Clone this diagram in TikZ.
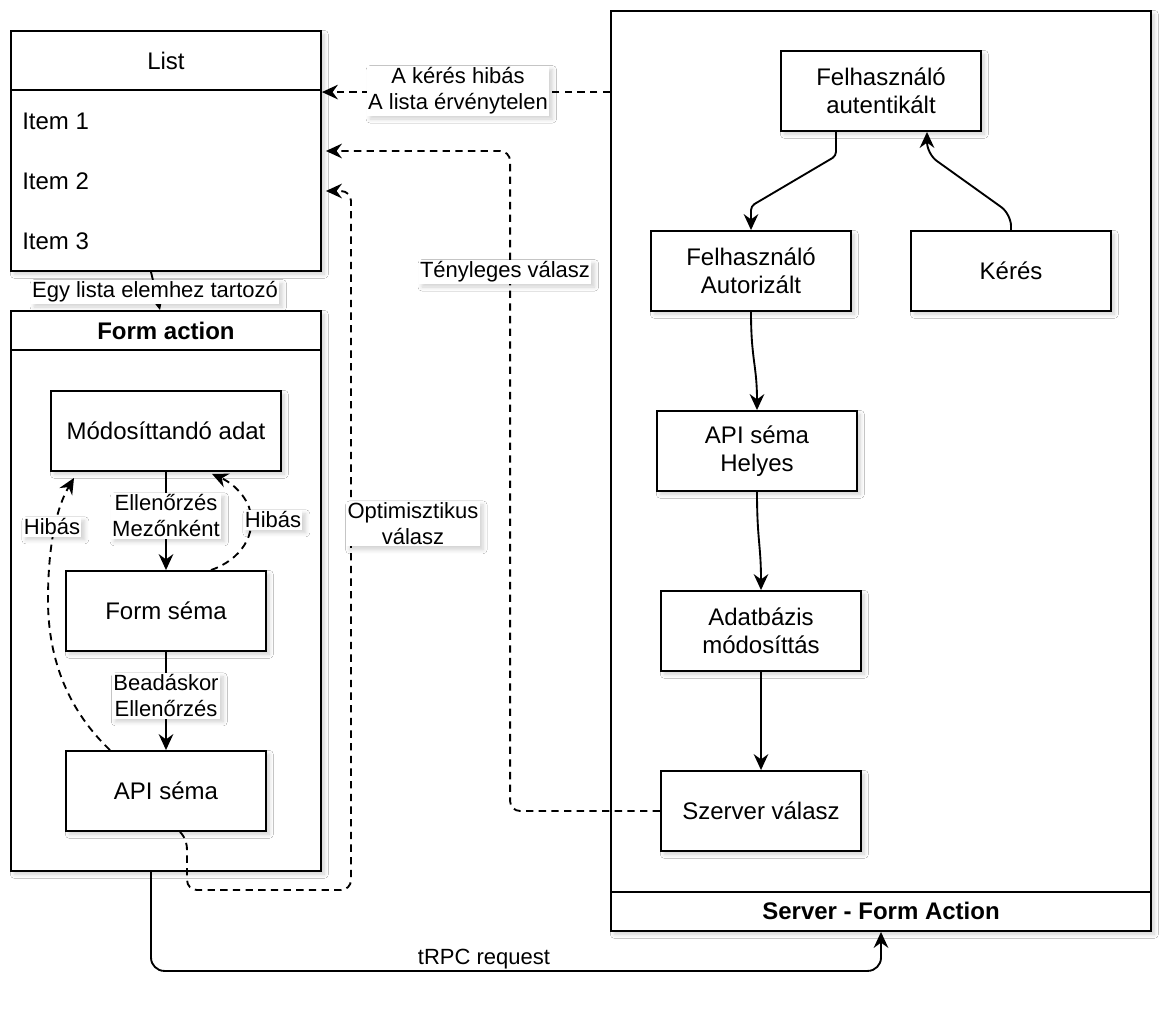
\documentclass[tikz,border=0pt]{standalone}
\usepackage{fontspec}
\setmainfont{Liberation Sans}
\usetikzlibrary{arrows.meta,calc,shadows.blur}
\newcommand\boxfont{\fontsize{18}{21}\selectfont}
\newcommand\lblfont{\fontsize{16.5}{19.5}\selectfont}
\begin{document}
\begin{tikzpicture}[x=0.75pt,y=-0.75pt,
  shad/.style={blur shadow={shadow xshift=2.5pt,shadow yshift=-2.5pt,shadow blur steps=6,shadow opacity=18,shadow blur radius=3pt}},
  frame/.style={draw,line width=1.4pt,fill=white,shad,inner sep=0pt},
  box/.style={draw,line width=1.4pt,fill=white,shad,minimum width=150pt,minimum height=60pt,align=center,font=\boxfont,inner sep=2pt},
  txt/.style={font=\boxfont,inner sep=0pt,align=center},
  lbl/.style={fill=white,shad,font=\lblfont,inner sep=1pt,align=center},
  arr/.style={line width=1.4pt,-{Stealth[length=12pt,width=11pt,inset=4pt]}},
  darr/.style={arr,dash pattern=on 5.5pt off 4pt},
  conn/.style={line width=1.4pt}]

\fill[white] (0,0) rectangle (1174,1020);
\useasboundingbox (0,0) rectangle (1174,1020);

% containers
\node[frame,minimum width=232.5pt,minimum height=180pt] (list) at (166,151) {};
\draw[conn] ($(list.north west)+(0,60)$) -- ($(list.north east)+(0,60)$);
\node[txt] (listtitle) at (166,61) {List};
\node[txt,anchor=west] (item1) at (22,121) {Item 1};
\node[txt,anchor=west] (item2) at (22,181) {Item 2};
\node[txt,anchor=west] (item3) at (22,241) {Item 3};

\node[frame,minimum width=232.5pt,minimum height=420pt] (fa) at (166,591) {};
\draw[conn] ($(fa.north west)+(0,40)$) -- ($(fa.north east)+(0,40)$);
\node[txt,font=\boxfont\bfseries] (fatitle) at (166,331) {Form action};

\node[frame,minimum width=405pt,minimum height=690pt] (srv) at (881,471) {};
\draw[conn] ($(srv.south west)+(0,-40)$) -- ($(srv.south east)+(0,-40)$);
\node[txt,font=\boxfont\bfseries] (srvtitle) at (881,911) {Server - Form Action};

% client side boxes
\node[box,minimum width=172.5pt] (mod) at (166,431) {Módosíttandó adat};
\node[box] (fs) at (166,611) {Form séma};
\node[box] (api) at (166,791) {API séma};

% server side boxes
\node[box] (auth) at (881,91) {Felhasználó\\autentikált};
\node[box] (autz) at (751,271) {Felhasználó\\Autorizált};
\node[box] (keres) at (1011,271) {Kérés};
\node[box] (apih) at (757,451) {API séma\\Helyes};
\node[box] (db) at (761,631) {Adatbázis\\módosíttás};
\node[box] (sv) at (761,811) {Szerver válasz};

% client connectors
\draw[arr] ($(list.south)+(-15,0)$) -- ($(fa.north)+(-6,0)$);
\draw[arr] (mod) -- (fs);
\draw[arr] (fs) -- (api);
\draw[darr] ($(fs.north)+(45,0)$) .. controls (240,560) and (258,535) .. (249,507)
  .. controls (242,490) and (228,481) .. ($(mod.south)+(46,2)$);
\draw[darr] ($(api.north)+(-56,0)$) .. controls (70,712) and (48,662) .. (48,600)
  .. controls (48,540) and (58,505) .. ($(mod.south)+(-92,6)$);

% server connectors
\draw[arr,rounded corners=3pt] ($(auth.south)+(-45,0)$) -- ++(0,24) -- ($(autz.north)+(0,-24)$) -- (autz.north);
\draw[arr,rounded corners=9pt] (keres.north) -- ++(0,-16) -- ($(auth.south)+(46,22)$) -- ($(auth.south)+(46,0)$);
\draw[arr] (autz.south) .. controls (751,360) and (757,365) .. (apih.north);
\draw[arr] (apih.south) .. controls (757,540) and (761,545) .. (db.north);
\draw[arr] (db) -- (sv);

% responses and request
\draw[darr] ($(srv.north west)+(0,82)$) -- ($(list.north east)+(0,62)$);
\draw[darr,rounded corners=7.5pt] (sv.west) -- ++(-150,0) |- ($(list.east)+(4,0)$);
\draw[darr,rounded corners=7.5pt] ($(api.south)+(14,0)$) .. controls (186,838) and (187,845) .. (187,860)
  -- (187,890) -- (351,890) -- (351,191) -- ($(list.east)+(4,40)$);
\draw[arr,rounded corners=10pt] ($(fa.south)+(-15,0)$) -- ++(0,99) -| (srv.south);

% connector labels
\node[lbl] (l1) at (155,292) {Egy lista elemhez tartozó};
\node[lbl] (l2) at (166,516) {Ellenőrzés\\Mezőnként};
\node[lbl] (l3) at (166,696) {Beadáskor\\Ellenőrzés};
\node[lbl] (l4) at (273,520) {Hibás};
\node[lbl] (l5) at (52,527) {Hibás};
\node[lbl] (l6) at (458,91) {A kérés hibás\\A lista érvénytelen};
\node[lbl] (l7) at (505,272) {Tényleges válasz};
\node[lbl] (l8) at (413,524) {Optimisztikus\\válasz};
\node[font=\lblfont,inner sep=1pt] (l9) at (484,959) {tRPC request};
\end{tikzpicture}
\end{document}
